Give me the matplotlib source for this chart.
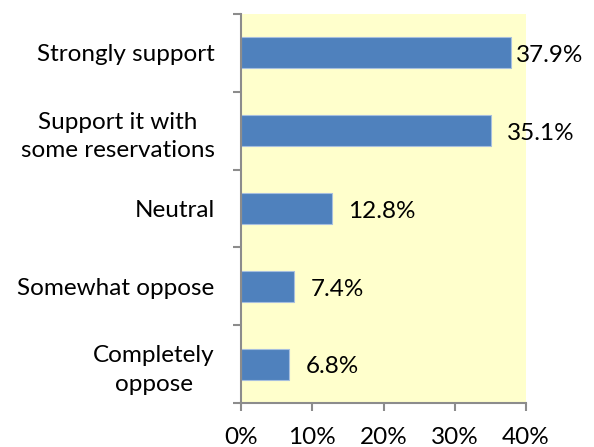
import matplotlib.pyplot as plt
from matplotlib.ticker import FuncFormatter

# 問卷結果：支持程度分布（百分比）
categories = ["Strongly support", "Support it with\nsome reservations", "Neutral",
              "Somewhat oppose", "Completely\noppose"]
values = [37.9, 35.1, 12.8, 7.4, 6.8]
x_ticks = [0, 10, 20, 30, 40]

plt.rcParams['font.family'] = ['Lato', 'DejaVu Sans']
FS = 17.5

fig = plt.figure(figsize=(5.94, 4.47), dpi=100)
ax = fig.add_axes([241 / 594, 1 - 403 / 447, 285 / 594, 389 / 447])
ax.set_facecolor("#FFFFCC")

pos = list(range(len(categories)))
ax.barh(pos, values, height=0.4, color="#4F81BD", edgecolor="#A7BFDE", linewidth=0.8, zorder=2)

# 數值標籤放在長條右側
label_pad = [3.5, 11.5, 11.5, 12.5, 11.5]
for p, v, pad in zip(pos, values, label_pad):
    ax.annotate(f"{v}%", xy=(v, p), xytext=(pad, -2), textcoords="offset points",
                ha="left", va="center", fontsize=FS, color="black")

ax.set_xlim(0, 40)
ax.set_ylim(len(categories) - 0.5, -0.5)
ax.set_xticks(x_ticks)
ax.xaxis.set_major_formatter(FuncFormatter(lambda v, _: f"{v:.0f}%"))

# 類別刻度畫在分隔處，標籤放在中間
ax.set_yticks([i - 0.5 for i in range(len(categories) + 1)])
ax.set_yticklabels([])
ax.set_yticks(pos, minor=True)
ax.set_yticklabels(categories, minor=True, fontsize=FS)
for lab in ax.get_yticklabels(minor=True):
    lab.set_multialignment("center")
    lab.set_linespacing(1.45)
ax.tick_params(axis="y", which="minor", length=0, pad=19)
ax.tick_params(axis="y", which="major", length=5.5, width=1.5, color="#8C8C8C", direction="out")
ax.tick_params(axis="x", length=5.5, width=1.5, color="#8C8C8C", direction="out", pad=12, labelsize=FS)

for s in ["top", "right"]:
    ax.spines[s].set_visible(False)
for s in ["left", "bottom"]:
    ax.spines[s].set_color("#8C8C8C")
    ax.spines[s].set_linewidth(1.5)

fig.savefig("out.png", dpi=100)
